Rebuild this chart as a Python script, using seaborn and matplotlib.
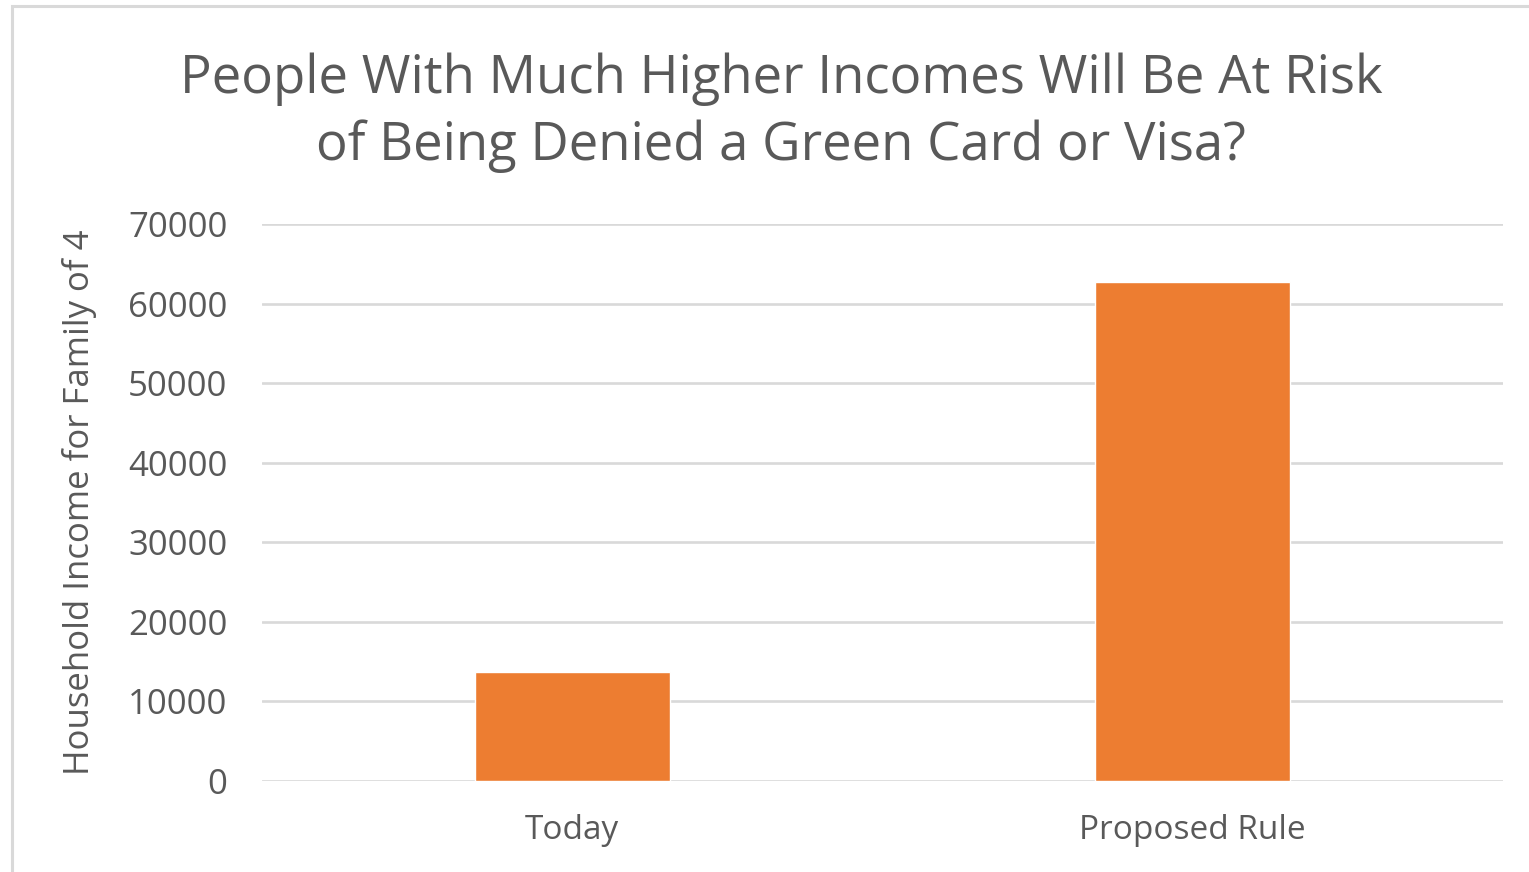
import matplotlib
matplotlib.use("Agg")
import matplotlib.pyplot as plt
import matplotlib.patches as patches
import seaborn as sns
import pandas as pd

# Chart data
categories = ["Today", "Proposed Rule"]
incomes = [13750, 62700]
y_ticks = [0, 10000, 20000, 30000, 40000, 50000, 60000, 70000]

title = "People With Much Higher Incomes Will Be At Risk\nof Being Denied a Green Card or Visa?"
y_label = "Household Income for Family of 4"

BAR_COLOR = "#ED7D31"
TEXT_COLOR = "#595959"
GRID_COLOR = "#D9D9D9"

sns.set_theme(style="white")
plt.rcParams["font.family"] = ["Open Sans", "DejaVu Sans"]

df = pd.DataFrame({"category": categories, "income": incomes})

fig = plt.figure(figsize=(15.29, 8.72), dpi=100)
ax = fig.add_axes([262 / 1529, 1 - 781 / 872, (1503 - 262) / 1529, (781 - 224) / 872])

# outer chart frame (cropped on right/bottom like the reference)
frame = patches.Rectangle((12 / 1529, -0.05), 1.1, 1 - 6 / 872 + 0.05, transform=fig.transFigure,
                          fill=False, edgecolor=GRID_COLOR, linewidth=2.2, clip_on=True)
fig.patches.append(frame)

sns.barplot(data=df, x="category", y="income", color=BAR_COLOR, saturation=1,
            width=0.315, ax=ax, zorder=3)

ax.set_ylim(0, 70000)
ax.set_xlim(-0.5, 1.5)
ax.set_yticks(y_ticks)
ax.set_yticklabels([str(t) for t in y_ticks])
ax.yaxis.grid(True, color=GRID_COLOR, linewidth=1.9)
ax.set_axisbelow(True)
for side in ["top", "right", "left", "bottom"]:
    ax.spines[side].set_visible(False)
ax.tick_params(axis="both", length=0, colors=TEXT_COLOR)
ax.tick_params(axis="y", pad=25, labelsize=25)
ax.tick_params(axis="x", pad=24, labelsize=24)
ax.set_xlabel("")
ax.set_ylabel(y_label, fontsize=25, color=TEXT_COLOR, labelpad=22)

fig.text(0.511, 1 - 113 / 872, title, ha="center", va="center", fontsize=38,
         color=TEXT_COLOR, linespacing=1.33)

fig.savefig("out.png", dpi=100, facecolor="white")
